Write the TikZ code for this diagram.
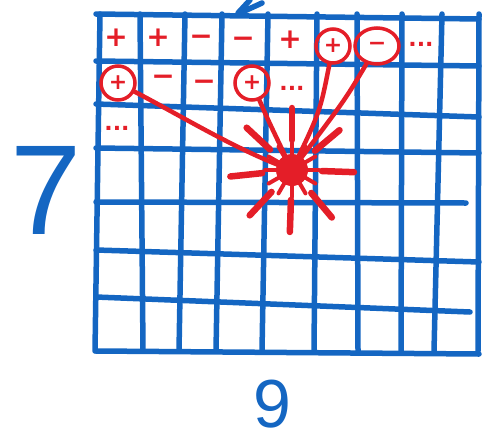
\documentclass[tikz,border=0pt]{standalone}
\usepackage{fontspec}
\setmainfont{DejaVu Sans}
\newfontfamily\handfont{Liberation Sans}
\usetikzlibrary{shapes.geometric}
\definecolor{gridblue}{RGB}{20,102,194}
\definecolor{markred}{RGB}{228,30,40}
\tikzset{
  gridline/.style={draw=gridblue, line width=5.5pt, line cap=round},
  sgn/.style={text=markred, font=\bfseries\fontsize{28}{28}\selectfont, inner sep=0pt},
  csgn/.style={sgn, draw=markred, circle, line width=3.5pt, minimum size=34pt, font=\bfseries\fontsize{22}{22}\selectfont},
  osgn/.style={csgn, ellipse, minimum width=44pt, minimum height=36pt},
  dots/.style={text=markred, font=\bfseries\fontsize{22}{22}\selectfont, inner sep=0pt},
  link/.style={draw=markred, line width=4.5pt, line cap=round},
  ray/.style={draw=markred, line width=6.5pt, line cap=round},
  digit/.style={text=gridblue, inner sep=0pt},
}
\begin{document}
\begin{tikzpicture}[x=1pt, y=-1pt]
\useasboundingbox (0,0) rectangle (489,442);
% grid
\foreach \a/\b in {100/95,140/143,185/179,222/216,268/262,317/314,357/358,402/401,442/434,479/478}
  \draw[gridline] (\a,14) -- (\b,351);
\foreach \l/\r/\e in {14/19/479,61/66/479,104/117/479,148/153/479,202/203/466,250/262/479,297/312/470,351/354/479}
  \draw[gridline] (96,\l) -- (\e,\r);
\draw[gridline] (238,13) -- (250,0) (240,13) -- (262,3);

\node[digit, font=\handfont\fontsize{128}{128}\selectfont] (rows) at (46,190) {7};
\node[digit, font=\handfont\fontsize{68}{68}\selectfont] (cols) at (272,404) {9};

% signs
\node[sgn] (a1) at (116,38) {+};
\node[sgn] (a2) at (158,38) {+};
\node[sgn] (a3) at (201,40) {−};
\node[sgn] (a4) at (243,42) {−};
\node[sgn] (a5) at (290,40) {+};
\node[csgn] (a6) at (333,46) {+};
\node[osgn] (a7) at (377,46) {−};
\node[dots] (a8) at (421,44) {...};
\node[csgn] (b1) at (118,83) {+};
\node[sgn] (b2) at (163,80) {−};
\node[sgn] (b3) at (204,85) {−};
\node[csgn] (b4) at (252,83) {+};
\node[dots] (b5) at (292,88) {...};
\node[dots] (c1) at (117,128) {...};

% burst
\coordinate (hit) at (292,170);
\fill[markred] (hit) circle (16pt);
\foreach \t in {-137,-90,-40,174,2,133,92,50}
  \draw[ray] ([shift={(\t:30)}]hit) -- ([shift={(\t:62)}]hit);
\foreach \t in {0,30,...,330}
  \draw[markred, line width=4pt, line cap=round] ([shift={(\t:10)}]hit) -- ([shift={(\t:27)}]hit);

\draw[link] (b1) .. controls (185,118) and (240,152) .. (hit);
\draw[link] (b4) .. controls (268,120) .. (hit);
\draw[link] (a6) .. controls (320,112) .. (hit);
\draw[link] (a7) .. controls (345,100) .. (hit);
\end{tikzpicture}
\end{document}
